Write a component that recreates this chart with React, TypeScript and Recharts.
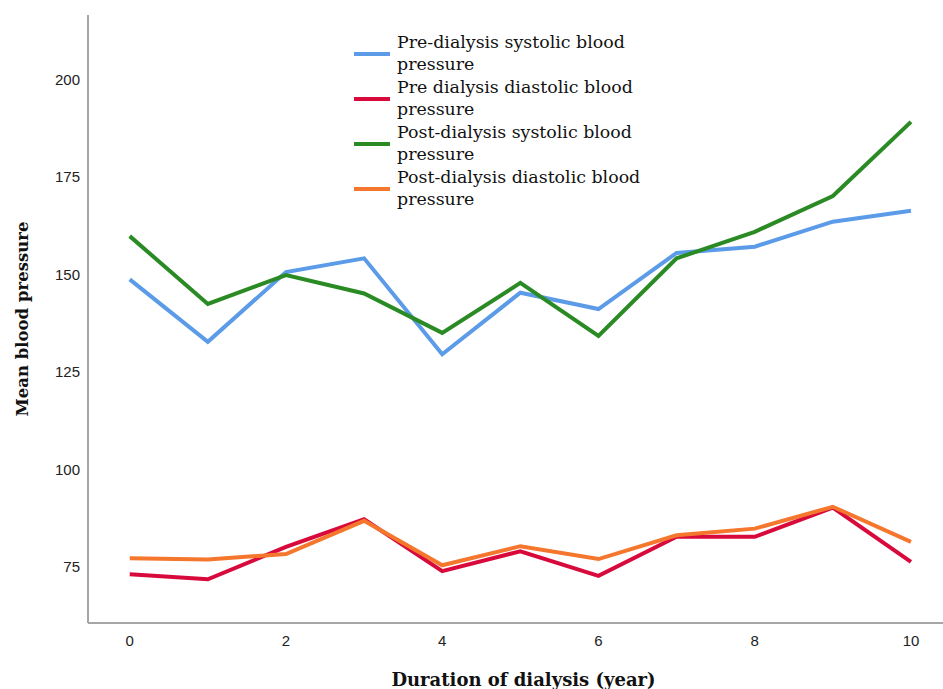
import React from "react";
import { LineChart, Line, XAxis, YAxis, Legend } from "recharts";

const years = [0, 1, 2, 3, 4, 5, 6, 7, 8, 9, 10];
const preSystolic = [148.7, 132.7, 150.6, 154.1, 129.5, 145.3, 141.1, 155.5, 157.1, 163.5, 166.3];
const preDiastolic = [73.1, 71.8, 80.1, 87.2, 73.9, 79.0, 72.7, 82.7, 82.7, 90.2, 76.3];
const postSystolic = [159.8, 142.4, 149.8, 145.1, 135.0, 147.8, 134.2, 154.1, 160.9, 170.1, 189.1];
const postDiastolic = [77.2, 76.9, 78.3, 86.8, 75.4, 80.3, 77.0, 83.1, 84.8, 90.4, 81.4];

const xTicks = [0, 2, 4, 6, 8, 10];
const yTicks = [75, 100, 125, 150, 175, 200];

const seriesInfo = [
  { key: "preSys", name: "Pre-dialysis systolic blood pressure", color: "#5B9BE8" },
  { key: "preDia", name: "Pre dialysis diastolic blood pressure", color: "#D80A3C" },
  { key: "postSys", name: "Post-dialysis systolic blood pressure", color: "#2A8A24" },
  { key: "postDia", name: "Post-dialysis diastolic blood pressure", color: "#F5762D" },
];

const data = years.map((y, i) => ({
  year: y,
  preSys: preSystolic[i],
  preDia: preDiastolic[i],
  postSys: postSystolic[i],
  postDia: postDiastolic[i],
}));

const serif = "'DejaVu Serif', serif";

const LegendContent = () => (
  <div style={{ fontFamily: serif, fontSize: 17.4, lineHeight: "22px", color: "#111" }}>
    {seriesInfo.map((s) => {
      const words = s.name.split(" ");
      const first = words.slice(0, -1).join(" ");
      const last = words[words.length - 1];
      return (
        <div key={s.key} style={{ display: "flex", alignItems: "center", height: 45 }}>
          <div style={{ width: 36, height: 4, background: s.color, marginRight: 7, marginTop: 2 }} />
          <div>
            <div style={{ whiteSpace: "nowrap" }}>{first}</div>
            <div>{last}</div>
          </div>
        </div>
      );
    })}
  </div>
);

export default function App() {
  return (
    <div style={{ position: "absolute", left: 0, top: 0, width: 943, height: 689, background: "#fff" }}>
      <LineChart width={943} height={689} data={data} margin={{ top: 15, right: 0, bottom: 36, left: 0 }}>
        <XAxis
          dataKey="year"
          type="number"
          domain={[-0.534, 10.41]}
          ticks={xTicks}
          allowDataOverflow
          tickLine={false}
          axisLine={{ stroke: "#a6a6a6", strokeWidth: 2 }}
          tick={{ fill: "#222", fontSize: 15, fontFamily: "'Liberation Sans', Arial, sans-serif" }}
          tickMargin={6}
          height={30}
          label={{
            value: "Duration of dialysis (year)",
            position: "insideBottom",
            offset: -33,
            dx: 8,
            style: { fontFamily: serif, fontWeight: "bold", fontSize: 18, fill: "#111" },
          }}
        />
        <YAxis
          type="number"
          domain={[60.6, 216.5]}
          ticks={yTicks}
          allowDataOverflow
          tickLine={false}
          axisLine={{ stroke: "#a6a6a6", strokeWidth: 2 }}
          tick={{ fill: "#222", fontSize: 15, fontFamily: "'Liberation Sans', Arial, sans-serif" }}
          width={88}
          label={{
            value: "Mean blood pressure",
            angle: -90,
            position: "insideLeft",
            offset: 22,
            style: { fontFamily: serif, fontWeight: "bold", fontSize: 16.5, fill: "#111", textAnchor: "middle" },
          }}
        />
        <Legend
          content={<LegendContent />}
          layout="vertical"
          verticalAlign="middle"
          align="center"
          wrapperStyle={{ left: 354, top: 30, width: 320 }}
        />
        {seriesInfo.map((s) => (
          <Line
            key={s.key}
            dataKey={s.key}
            name={s.name}
            stroke={s.color}
            strokeWidth={4}
            dot={false}
            activeDot={false}
            isAnimationActive={false}
            type="linear"
          />
        ))}
      </LineChart>
    </div>
  );
}
